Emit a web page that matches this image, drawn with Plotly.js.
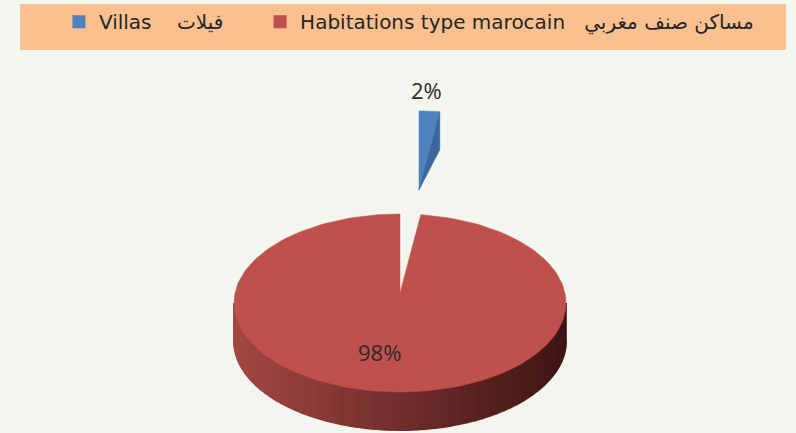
<!DOCTYPE html>
<html><head><meta charset="utf-8">
<script src="https://cdn.plot.ly/plotly-3.0.1.min.js"></script>
<style>html,body{margin:0;padding:0;background:#F3F6EE}</style>
</head><body>
<div id="chart" style="width:796px;height:433px"></div>
<script>
// ---- data ----
const categories = ['Villas\u00A0\u00A0\u00A0\u00A0فيلات\u00A0\u00A0\u00A0\u00A0\u00A0', 'Habitations type marocain\u00A0\u00A0\u00A0مساكن صنف مغربي'];
const shares = [2, 98];
const sliceColors = ['#4F81BD', '#C0504D'];
const pullFlags = [1, 0];

// ---- geometry (style) ----
const cx = 400, cy = 303, rx = 166, ry = 89, depth = 38, apexShift = -10;
const pullDx = 19, pullDy = -103;
const total = shares.reduce((a, b) => a + b, 0);
const rad = d => d * Math.PI / 180;
function pt(theta, ox, oy) { return [cx + ox + rx * Math.sin(rad(theta)), cy + oy - ry * Math.cos(rad(theta))]; }
function arc(a0, a1, ox, oy, dyExtra) {
  const xs = [], ys = [];
  const n = Math.max(2, Math.ceil(Math.abs(a1 - a0) / 2));
  for (let i = 0; i <= n; i++) { const t = a0 + (a1 - a0) * i / n; const p = pt(t, ox, oy); xs.push(p[0]); ys.push(p[1] + (dyExtra || 0)); }
  return [xs, ys];
}
function lerpColor(c1, c2, f) {
  const a = [1,3,5].map(i => parseInt(c1.substr(i,2),16));
  const b = [1,3,5].map(i => parseInt(c2.substr(i,2),16));
  return 'rgb(' + a.map((v,i) => Math.round(v + (b[i]-v)*f)).join(',') + ')';
}

const traces = [];
const annotations = [];
let start = 0;
const slices = shares.map((v, i) => {
  const a0 = start, a1 = start + v / total * 360; start = a1;
  return {i, v, a0, a1, ox: pullFlags[i] ? pullDx : 0, oy: pullFlags[i] ? pullDy : 0};
});

// side walls (front half: 90..270)
slices.forEach(s => {
  const w0 = Math.max(s.a0, 90), w1 = Math.min(s.a1, 270);
  if (w1 <= w0) return;
  const nSeg = 60;
  for (let k = 0; k < nSeg; k++) {
    const t0 = w0 + (w1 - w0) * k / nSeg, t1 = w0 + (w1 - w0) * (k + 1) / nSeg;
    const top = arc(t0, t1, s.ox, s.oy, 0), bot = arc(t1, t0, s.ox, s.oy, depth);
    const xm = pt((t0 + t1) / 2, 0, 0)[0];
    const f = (xm - (cx - rx)) / (2 * rx);
    const col = lerpColor('#A34744', '#3E1513', Math.min(1, Math.max(0, f)));
    traces.push({x: top[0].concat(bot[0]), y: top[1].concat(bot[1]), type: 'scatter', mode: 'lines',
      fill: 'toself', fillcolor: col, line: {color: col, width: 2}, hoverinfo: 'skip', showlegend: false});
  }
});

// top faces + cut faces
slices.forEach(s => {
  const ax = cx + s.ox, ay = cy + s.oy + apexShift;
  const a = arc(s.a0, s.a1, s.ox, s.oy, 0);
  traces.push({x: [ax].concat(a[0], [ax]), y: [ay].concat(a[1], [ay]), type: 'scatter', mode: 'lines',
    fill: 'toself', fillcolor: sliceColors[s.i], line: {color: sliceColors[s.i], width: 0.5},
    hoverinfo: 'skip', showlegend: false});
  if (s.a1 > 0 && s.a1 < 90) {
    const e = pt(s.a1, s.ox, s.oy);
    traces.push({x: [ax, e[0], e[0], ax], y: [ay, e[1], e[1] + depth, ay], type: 'scatter', mode: 'lines',
      fill: 'toself', fillcolor: '#3B679E', line: {color: '#3B679E', width: 0.5}, hoverinfo: 'skip', showlegend: false});
  }
  // labels
  const mid = (s.a0 + s.a1) / 2;
  let lx, ly;
  if (s.v / total < 0.1) { const p = pt(mid, s.ox, s.oy); lx = p[0] - 3; ly = p[1] - 21; }
  else { lx = cx + rx * 0.52 * Math.sin(rad(mid)) - 15; ly = cy - ry * 0.55 * Math.cos(rad(mid)); }
  annotations.push({x: lx, y: ly, xref: 'x', yref: 'y', text: Math.round(s.v / total * 100) + '%', showarrow: false,
    font: {family: 'Open Sans, sans-serif', size: 22, color: '#2B2B2B'}});
});

// legend entries
shares.forEach((v, i) => {
  traces.push({x: [null], y: [null], type: 'scatter', mode: 'markers', name: categories[i],
    marker: {symbol: 'square', size: 13, color: sliceColors[i]}, showlegend: true, hoverinfo: 'skip'});
});

const layout = {
  width: 796, height: 433,
  margin: {l: 0, r: 0, t: 0, b: 0},
  paper_bgcolor: '#F3F6EE', plot_bgcolor: '#F3F6EE',
  xaxis: {range: [0, 796], visible: false, fixedrange: true},
  yaxis: {range: [433, 0], visible: false, fixedrange: true},
  showlegend: true,
  legend: {orientation: 'h', x: 0.074, y: 0.995, xanchor: 'left', yanchor: 'top', bgcolor: 'rgba(0,0,0,0)',
    font: {family: 'DejaVu Sans, sans-serif', size: 20, color: '#262626'},
    itemwidth: 30, traceorder: 'normal', tracegroupgap: 0},
  shapes: [{type: 'rect', xref: 'paper', yref: 'paper', x0: 20/796, x1: 786/796, y0: 1 - 50/433, y1: 1 - 4/433,
    fillcolor: '#FAC090', line: {width: 0}, layer: 'below'}],
  annotations: annotations
};
Plotly.newPlot('chart', traces, layout, {displayModeBar: false, staticPlot: true});
</script>
</body></html>
